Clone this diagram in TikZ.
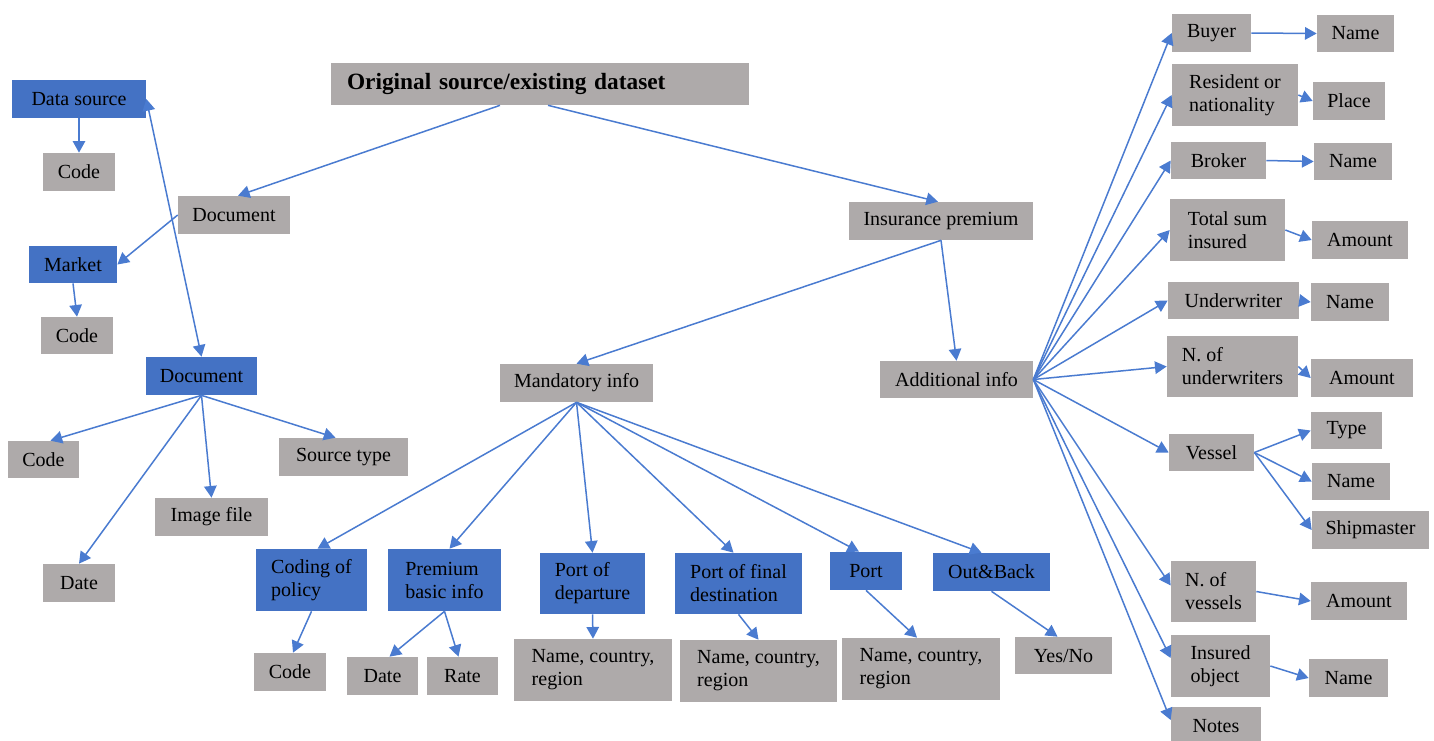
\documentclass[tikz,border=0pt]{standalone}
\usepackage{fontspec}
\setmainfont{Liberation Serif}
\usetikzlibrary{arrows.meta,calc}
\definecolor{boxblue}{HTML}{4472C4}
\definecolor{boxgray}{HTML}{AEAAAA}
\definecolor{linec}{HTML}{4A7BD0}
\newcommand{\bx}[7]{\node[#6, minimum width={(#4-#2)*0.6pt}, minimum height={(#5-#3)*0.6pt}] (#1) at ({(#2+#4)/2},{(#3+#5)/2}) {#7};}
\begin{document}
\begin{tikzpicture}[x=0.6pt,y=-0.6pt,
  gbox/.style={fill=boxgray, inner sep=0pt, align=left, font=\fontsize{12}{13.8}\selectfont},
  bbox/.style={fill=boxblue, inner sep=0pt, align=left, font=\fontsize{12}{13.8}\selectfont},
  titlebox/.style={fill=boxgray, inner ysep=0pt, align=left, font=\fontsize{14}{16}\selectfont\bfseries},
  conn/.style={draw=linec, line width=0.9pt, -{Triangle[length=7pt,width=7.5pt]}},
  dconn/.style={draw=linec, line width=0.9pt, {Triangle[length=7pt,width=7.5pt]}-{Triangle[length=7pt,width=7.5pt]}}]
\useasboundingbox (0,0) rectangle (1434,740);
% title
\node[titlebox, text width={(418-32)*0.6pt}, inner xsep=9.6pt, minimum height=25.2pt] (title) at (540,84) {Original source/existing dataset};
% left part
\bx{ds}{12}{80}{146}{118}{bbox}{Data source}
\bx{code1}{43}{153}{115}{191}{gbox}{Code}
\bx{docg}{178}{196}{290}{234}{gbox}{Document}
\bx{market}{29}{246}{117}{283}{bbox}{Market}
\bx{code2}{41}{317}{113}{354}{gbox}{Code}
\bx{docb}{146}{357}{257}{395}{bbox}{Document}
\bx{code3}{8}{441}{79}{478}{gbox}{Code}
\bx{srct}{279}{438}{408}{476}{gbox}{Source type}
\bx{img}{155}{498}{268}{536}{gbox}{Image file}
\bx{date1}{43}{564}{115}{602}{gbox}{Date}
% middle
\bx{ins}{849}{202}{1033}{240}{gbox}{Insurance premium}
\bx{mand}{500}{364}{653}{402}{gbox}{Mandatory info}
\bx{addl}{880}{361}{1033}{398}{gbox}{Additional info}
\bx{cod}{256}{549}{367}{611}{bbox}{Coding of\\policy}
\bx{prem}{388}{549}{501}{611}{bbox}{Premium\\basic info}
\bx{dep}{540}{553}{645}{614}{bbox}{Port of\\departure}
\bx{fin}{675}{553}{802}{614}{bbox}{Port of final\\destination}
\bx{port}{830}{552}{902}{590}{bbox}{Port}
\bx{oab}{933}{553}{1050}{591}{bbox}{Out\&Back}
\bx{code4}{254}{653}{326}{691}{gbox}{Code}
\bx{date2}{347}{657}{418}{695}{gbox}{Date}
\bx{rate}{427}{657}{498}{695}{gbox}{Rate}
\bx{ncr1}{514}{639}{672}{701}{gbox}{Name, country,\\region}
\bx{ncr2}{680}{640}{837}{702}{gbox}{Name, country,\\region}
\bx{ncr3}{842}{638}{1000}{700}{gbox}{Name, country,\\region}
\bx{yesno}{1015}{637}{1112}{674}{gbox}{Yes/No}
% right column
\bx{buyer}{1172}{14}{1251}{52}{gbox}{Buyer}
\bx{name1}{1317}{15}{1394}{52}{gbox}{Name}
\bx{res}{1172}{64}{1298}{126}{gbox}{Resident or\\nationality}
\bx{place}{1313}{82}{1385}{120}{gbox}{Place}
\bx{broker}{1171}{142}{1266}{179}{gbox}{Broker}
\bx{name2}{1314}{143}{1392}{180}{gbox}{Name}
\bx{tsi}{1170}{199}{1285}{261}{gbox}{Total sum\\insured}
\bx{amt1}{1312}{221}{1408}{259}{gbox}{Amount}
\bx{uw}{1168}{282}{1299}{319}{gbox}{Underwriter}
\bx{name3}{1311}{283}{1389}{321}{gbox}{Name}
\bx{nuw}{1167}{336}{1298}{397}{gbox}{N. of\\underwriters}
\bx{amt2}{1311}{359}{1413}{397}{gbox}{Amount}
\bx{vessel}{1169}{434}{1254}{471}{gbox}{Vessel}
\bx{type}{1311}{412}{1382}{449}{gbox}{Type}
\bx{name4}{1312}{463}{1390}{500}{gbox}{Name}
\bx{ship}{1312}{511}{1429}{549}{gbox}{Shipmaster}
\bx{nves}{1171}{561}{1256}{622}{gbox}{N. of\\vessels}
\bx{amt3}{1311}{582}{1407}{620}{gbox}{Amount}
\bx{insobj}{1171}{635}{1270}{697}{gbox}{Insured\\object}
\bx{name5}{1309}{659}{1388}{697}{gbox}{Name}
\bx{notes}{1171}{707}{1261}{745}{gbox}{Notes}
% connectors
\draw[conn] ($(title.south)+(-40,0)$) -- ($(docg.north)+(4,0)$);
\draw[conn] ($(title.south)+(8,0)$) -- ($(ins.north)+(-3,0)$);
\draw[conn] (ds.south) -- (code1.north);
\draw[conn] (docg.west) -- (market.east);
\draw[conn] (market.south) -- (code2.north);
\draw[dconn] (ds.east) -- (docb.north);
\draw[conn] (docb.south) -- ($(code3.north)+(7,0)$);
\draw[conn] (docb.south) -- (date1.north);
\draw[conn] (docb.south) -- (img.north);
\draw[conn] (docb.south) -- ($(srct.north)+(-8,0)$);
\draw[conn] (ins.south) -- (mand.north);
\draw[conn] (ins.south) -- (addl.north);
\draw[conn] (mand.south) -- ($(cod.north)+(6,0)$);
\draw[conn] (mand.south) -- ($(prem.north)+(5,0)$);
\draw[conn] (mand.south) -- (dep.north);
\draw[conn] (mand.south) -- ($(fin.north)+(-5,0)$);
\draw[conn] (mand.south) -- ($(port.north)+(-7,0)$);
\draw[conn] (mand.south) -- ($(oab.north)+(-10,0)$);
\draw[conn] (cod.south) -- ($(code4.north)+(3,0)$);
\draw[conn] (prem.south) -- ($(date2.north)+(7,0)$);
\draw[conn] (prem.south) -- ($(rate.north)+(-4,0)$);
\draw[conn] (dep.south) -- (ncr1.north);
\draw[conn] (fin.south) -- (ncr2.north);
\draw[conn] (port.south) -- ($(ncr3.north)+(-4,0)$);
\draw[conn] (oab.south) -- ($(yesno.north)+(-6,0)$);
\draw[conn] (addl.east) -- (buyer.west);
\draw[conn] (addl.east) -- (res.west);
\draw[conn] (addl.east) -- (broker.west);
\draw[conn] (addl.east) -- (tsi.west);
\draw[conn] (addl.east) -- (uw.west);
\draw[conn] (addl.east) -- (nuw.west);
\draw[conn] (addl.east) -- (vessel.west);
\draw[conn] (addl.east) -- ($(nves.west)+(0,-6)$);
\draw[conn] (addl.east) -- ($(insobj.west)+(0,-8)$);
\draw[conn] (addl.east) -- ($(notes.west)+(0,-6)$);
\draw[conn] (buyer.east) -- (name1.west);
\draw[conn] (res.east) -- (place.west);
\draw[conn] (broker.east) -- (name2.west);
\draw[conn] (tsi.east) -- (amt1.west);
\draw[conn] (uw.east) -- (name3.west);
\draw[conn] (nuw.east) -- (amt2.west);
\draw[conn] (vessel.east) -- (type.west);
\draw[conn] (vessel.east) -- (name4.west);
\draw[conn] (vessel.east) -- (ship.west);
\draw[conn] (nves.east) -- (amt3.west);
\draw[conn] (insobj.east) -- (name5.west);
\end{tikzpicture}
\end{document}
